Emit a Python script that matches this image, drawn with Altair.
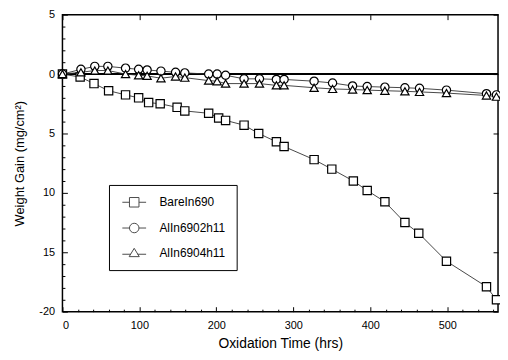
import altair as alt
import pandas as pd

series_names = ["BareIn690", "AlIn6902h11", "AlIn6904h11"]

bare_t = [0, 23, 41, 60, 82, 99, 112, 127, 149, 159, 190, 203, 212, 236, 255, 278, 288,
          327, 350, 378, 396, 419, 445, 463, 499, 551, 564]
bare_w = [0, -0.25, -0.8, -1.4, -1.75, -2.0, -2.4, -2.5, -2.8, -3.1, -3.3, -3.7, -3.9,
          -4.3, -5.0, -5.7, -6.1, -7.2, -8.0, -9.0, -9.8, -10.75, -12.5, -13.4, -15.75,
          -17.9, -19.0]

coat_t = [0, 24, 42, 59, 82, 99, 110, 128, 147, 159, 190, 201, 212, 236, 256, 278, 288,
          327, 351, 377, 396, 419, 445, 464, 499, 551, 564]
al2_w = [0, 0.4, 0.65, 0.65, 0.5, 0.4, 0.35, 0.25, 0.15, 0.1, 0.0, 0.0, -0.1, -0.4, -0.4,
         -0.45, -0.45, -0.6, -0.75, -1.0, -1.05, -1.1, -1.15, -1.2, -1.35, -1.65, -1.75]
al4_w = [0, 0.15, 0.3, 0.3, 0.0, -0.1, -0.15, -0.35, -0.2, -0.3, -0.55, -0.6, -0.8, -0.8,
         -0.8, -0.95, -0.95, -1.15, -1.25, -1.3, -1.35, -1.4, -1.45, -1.5, -1.6, -1.8, -1.9]

x_major = [0, 100, 200, 300, 400, 500]
x_minor = list(range(0, 561, 20))
y_major = [-20, -15, -10, -5, 0, 5]
y_minor = list(range(-20, 6, 1))

rows = []
for t, w in zip(bare_t, bare_w):
    rows.append({"t": t, "w": w, "s": series_names[0]})
for t, w in zip(coat_t, al2_w):
    rows.append({"t": t, "w": w, "s": series_names[1]})
for t, w in zip(coat_t, al4_w):
    rows.append({"t": t, "w": w, "s": series_names[2]})
df = pd.DataFrame(rows)

FONT = "Liberation Sans"
xs = alt.Scale(domain=[0, 566], nice=False, zero=False)
ys = alt.Scale(domain=[-20, 5], nice=False)

xtick_size = {"condition": {"test": "datum.value % 100 === 0", "value": 5}, "value": 2.5}
ytick_size = {"condition": {"test": "datum.value % 5 === 0", "value": 5}, "value": 2.5}

base = alt.Chart(df)

line = base.mark_line(color="#333", strokeWidth=0.9).encode(
    x=alt.X("t:Q", scale=xs, axis=alt.Axis(
        values=x_major, ticks=False, domain=False, grid=False, format="d",
        title="Oxidation Time (hrs)", labelFont=FONT, labelFontSize=11,
        titleFont=FONT, titleFontSize=14, titleFontWeight="normal",
        labelPadding=8, titlePadding=6, labelColor="black", titleColor="black")),
    y=alt.Y("w:Q", scale=ys, axis=alt.Axis(
        values=y_major, ticks=False, domain=False, grid=False,
        labelExpr="datum.value === -20 ? '-20' : format(abs(datum.value), 'd')",
        title="Weight Gain (mg/cm²)", labelFont=FONT, labelFontSize=11,
        titleFont=FONT, titleFontSize=13, titleFontWeight="normal",
        labelPadding=8, titlePadding=12, labelColor="black", titleColor="black")),
    detail="s:N",
)

points = base.mark_point(filled=True, fill="white", stroke="black", strokeWidth=1.2,
                         size=70, opacity=1).encode(
    x=alt.X("t:Q", scale=xs, axis=alt.Axis(
        orient="top", offset=-300, values=x_minor, labels=False, domain=False,
        grid=False, title=None, tickColor="black", tickSize=xtick_size)),
    y=alt.Y("w:Q", scale=ys, axis=alt.Axis(
        orient="right", offset=-440, values=y_minor, labels=False, domain=False,
        grid=False, title=None, tickColor="black", tickSize=ytick_size)),
    shape=alt.Shape("s:N", scale=alt.Scale(domain=series_names,
                                           range=["square", "circle", "triangle-up"]),
                    legend=None),
)

legend_paths = [
    "M-2,0H-0.8M-0.8,-0.8H0.8V0.8H-0.8ZM0.8,0H2",
    "M-2,0H-0.8M0.8,0A0.8,0.8,0,1,1,-0.8,0A0.8,0.8,0,1,1,0.8,0M0.8,0H2",
    "M-2,0.25H-0.55M0,-0.75L0.85,0.65H-0.85ZM0.55,0.25H2",
]

legend_layer = base.transform_filter("false").mark_point(
    filled=False, color="black", strokeWidth=1, size=144).encode(
    x=alt.X("t:Q", scale=xs, axis=alt.Axis(
        orient="bottom", offset=-300, values=x_major, labels=False, domain=False,
        grid=False, title=None, tickColor="black", tickSize=5)),
    y=alt.Y("w:Q", scale=ys, axis=alt.Axis(
        orient="left", offset=-440, values=y_major, labels=False, domain=False,
        grid=False, title=None, tickColor="black", tickSize=5)),
    shape=alt.Shape("s:N", scale=alt.Scale(domain=series_names, range=legend_paths),
                    legend=alt.Legend(
                        title=None, orient="none", legendX=47, legendY=172,
                        labelFont=FONT, labelFontSize=12, labelColor="black",
                        strokeColor="black", fillColor="white", padding=11,
                        symbolOffset=8, labelOffset=19, rowPadding=11,
                        symbolSize=144, symbolStrokeWidth=1, symbolStrokeColor="black",
                        symbolFillColor="white")),
)

zero_rule = alt.Chart(pd.DataFrame({"z": [0]})).mark_rule(
    color="black", strokeWidth=2).encode(y=alt.Y("z:Q", scale=ys, axis=None))

chart = alt.layer(zero_rule, line, points, legend_layer).resolve_scale(
    shape="independent").resolve_axis(x="independent", y="independent").properties(
    width=440, height=300,
    autosize=alt.AutoSizeParams(type="none"),
    padding={"left": 55, "top": 5, "right": 2, "bottom": 40},
    background="white",
).configure_view(stroke="black", strokeWidth=1.5)

chart.save("out.html", embed_options={"renderer": "svg", "actions": False})
